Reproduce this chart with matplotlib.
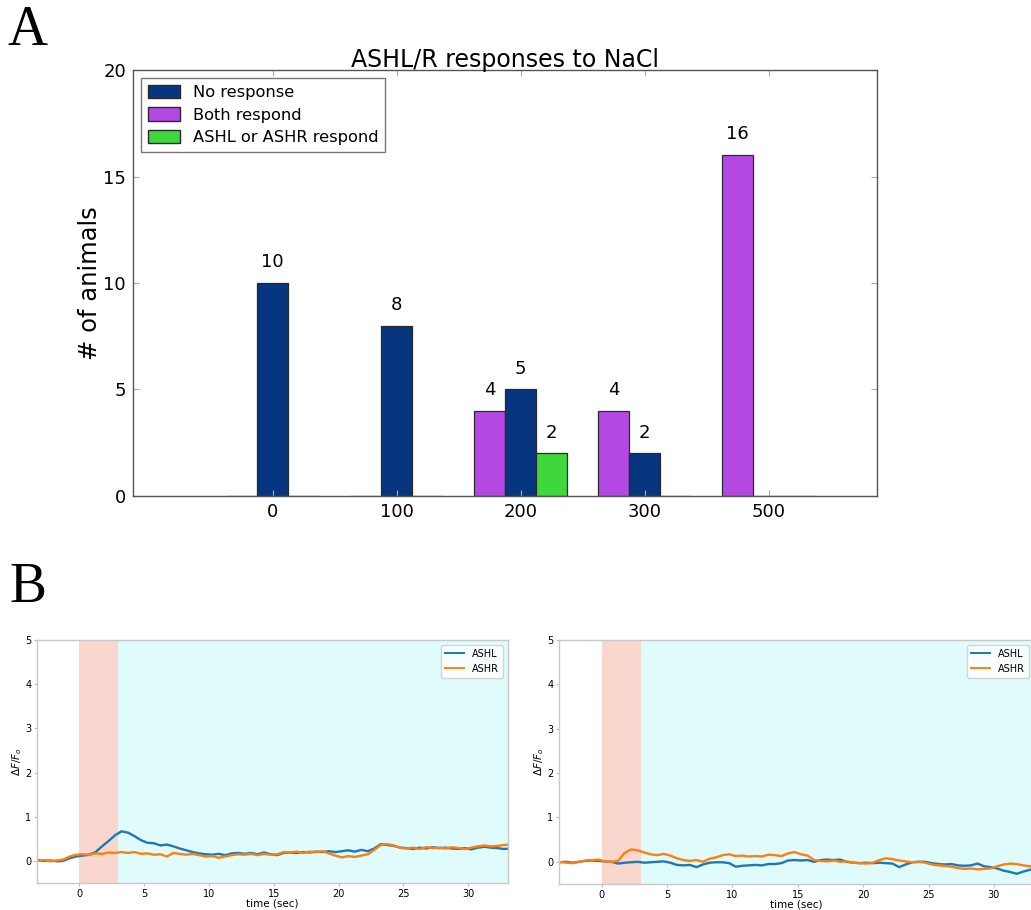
import numpy as np
import matplotlib
matplotlib.use('Agg')
import matplotlib.pyplot as plt
from matplotlib.patches import Patch

# 柱状图数据：各浓度下的动物数量
doses = ['0', '100', '200', '300', '500']
no_response = [10, 8, 5, 2, 0]
both_respond = [0, 0, 4, 4, 16]
one_respond = [0, 0, 2, 0, 0]

# 钙成像曲线数据，每 0.5 秒取一个点
t_start, t_step = -3.25, 0.5
left_ashl = [0.02, 0.00, 0.01, -0.01, 0.00, 0.06, 0.10, 0.12, 0.14, 0.20,
             0.33, 0.45, 0.58, 0.67, 0.64, 0.56, 0.47, 0.41, 0.40, 0.35,
             0.37, 0.33, 0.28, 0.24, 0.20, 0.17, 0.15, 0.14, 0.16, 0.13,
             0.17, 0.18, 0.16, 0.18, 0.15, 0.19, 0.15, 0.13, 0.18, 0.19,
             0.18, 0.20, 0.19, 0.21, 0.20, 0.22, 0.20, 0.22, 0.24, 0.21,
             0.25, 0.22, 0.28, 0.38, 0.36, 0.34, 0.30, 0.29, 0.27, 0.30,
             0.28, 0.31, 0.29, 0.30, 0.28, 0.27, 0.29, 0.26, 0.30, 0.32,
             0.30, 0.29, 0.27, 0.28]
left_ashr = [0.00, 0.02, -0.01, 0.01, 0.03, 0.10, 0.14, 0.15, 0.14, 0.17,
             0.16, 0.19, 0.18, 0.20, 0.18, 0.20, 0.16, 0.17, 0.14, 0.15,
             0.10, 0.18, 0.16, 0.14, 0.16, 0.13, 0.10, 0.11, 0.07, 0.10,
             0.13, 0.15, 0.14, 0.16, 0.13, 0.16, 0.14, 0.15, 0.20, 0.19,
             0.21, 0.18, 0.21, 0.20, 0.22, 0.17, 0.12, 0.08, 0.11, 0.09,
             0.12, 0.15, 0.25, 0.36, 0.38, 0.35, 0.30, 0.28, 0.30, 0.27,
             0.31, 0.29, 0.30, 0.28, 0.31, 0.29, 0.27, 0.30, 0.33, 0.35,
             0.33, 0.34, 0.36, 0.37]
right_ashl = [-0.01, 0.00, -0.02, 0.00, 0.02, 0.03, 0.02, 0.01, 0.00, -0.04,
              -0.02, -0.01, 0.00, -0.02, -0.01, 0.00, 0.01, -0.02, -0.07, -0.08,
              -0.07, -0.12, -0.06, -0.02, -0.01, -0.01, -0.03, -0.11, -0.09, -0.08,
              -0.07, -0.08, -0.05, -0.05, -0.03, 0.03, 0.04, 0.03, 0.04, 0.00,
              0.04, 0.05, 0.04, 0.05, 0.00, -0.02, -0.03, -0.02, -0.03, -0.02,
              -0.03, -0.04, -0.12, -0.06, -0.01, 0.00, 0.00, -0.03, -0.05, -0.06,
              -0.05, -0.08, -0.09, -0.08, -0.04, -0.10, -0.12, -0.15, -0.20, -0.23,
              -0.27, -0.22, -0.18, -0.13]
right_ashr = [0.00, -0.02, -0.03, 0.00, 0.03, 0.04, 0.05, 0.01, 0.00, 0.02,
              0.20, 0.28, 0.26, 0.21, 0.17, 0.15, 0.18, 0.14, 0.08, 0.04,
              0.02, 0.04, 0.00, 0.07, 0.10, 0.15, 0.17, 0.13, 0.14, 0.12,
              0.13, 0.12, 0.16, 0.15, 0.13, 0.19, 0.22, 0.17, 0.14, 0.04,
              0.02, 0.01, 0.03, 0.00, 0.01, -0.02, -0.03, -0.04, -0.02, 0.04,
              0.08, 0.06, 0.03, 0.01, -0.01, 0.00, -0.02, -0.06, -0.08, -0.09,
              -0.11, -0.14, -0.16, -0.15, -0.17, -0.16, -0.15, -0.10, -0.06, -0.04,
              -0.05, -0.08, -0.10, -0.12]

W, H = 1031, 910


def px_axes(fig, left, top, right, bottom):
    """按像素位置添加坐标轴"""
    return fig.add_axes([left / W, 1 - bottom / H, (right - left) / W, (bottom - top) / H])


def draw_bars(ax):
    x = np.arange(len(doses))
    w = 0.25
    c_none, c_both, c_one = '#07357f', '#b349e2', '#3ed83c'
    groups = [(x - w, both_respond, c_both), (x, no_response, c_none), (x + w, one_respond, c_one)]
    for pos, vals, col in groups:
        ax.bar(pos, vals, w, color=col, edgecolor='#2a2a2a', linewidth=0.9, align='center')
        for p, v in zip(pos, vals):
            if v > 0:
                ax.text(p, v + 0.55, str(v), ha='center', va='bottom', fontsize=13)

    ax.set_xlim(-1.125, 4.875)
    ax.set_ylim(0, 20)
    ax.set_xticks(x)
    ax.set_xticklabels(doses, fontsize=13)
    ax.set_yticks([0, 5, 10, 15, 20])
    ax.tick_params(axis='y', labelsize=13)
    ax.tick_params(direction='in', top=True, right=True, length=4, color='#aaaaaa', pad=5)
    for s in ax.spines.values():
        s.set_color('#555555')
        s.set_linewidth(1)
    ax.set_title('ASHL/R responses to NaCl', fontsize=17, pad=2)
    ax.set_ylabel('# of animals', fontsize=17.5, labelpad=1)

    handles = [Patch(facecolor=c_none, edgecolor='#2a2a2a', label='No response'),
               Patch(facecolor=c_both, edgecolor='#2a2a2a', label='Both respond'),
               Patch(facecolor=c_one, edgecolor='#2a2a2a', label='ASHL or ASHR respond')]
    leg = ax.legend(handles=handles, loc='upper left', fontsize=11.7, fancybox=False,
                    borderaxespad=0.5, handlelength=2.0, handleheight=0.9,
                    labelspacing=0.45, borderpad=0.4, handletextpad=0.8)
    leg.get_frame().set_edgecolor('#555555')
    leg.get_frame().set_linewidth(1)


def draw_trace(ax, ashl, ashr):
    t = t_start + t_step * np.arange(len(ashl))
    ax.axvspan(0, 3, color='#f9d7cf', lw=0)
    ax.axvspan(3, 40, color='#e0fbfb', lw=0)
    ax.plot(t, ashl, color='#1f77b4', lw=1.7, label='ASHL')
    ax.plot(t, ashr, color='#ff7f0e', lw=1.7, label='ASHR')
    ax.set_xlim(-3.27, 33.07)
    ax.set_ylim(-0.5, 5)
    ax.set_xticks([0, 5, 10, 15, 20, 25, 30])
    ax.set_yticks([0, 1, 2, 3, 4, 5])
    ax.tick_params(labelsize=7, length=2, color='#bbbbbb', pad=2)
    for s in ax.spines.values():
        s.set_color('#c8c8c8')
        s.set_linewidth(1)
    ax.set_xlabel('time (sec)', fontsize=7.5, labelpad=0)
    ax.set_ylabel(r'$\Delta F/F_o$', fontsize=7.5, labelpad=1)
    leg = ax.legend(loc='upper right', fontsize=7, borderaxespad=0.5)
    for line in leg.get_lines():
        line.set_linewidth(1.4)


fig = plt.figure(figsize=(W / 100, H / 100), dpi=100)

ax_a = px_axes(fig, 133, 70, 877, 496)
draw_bars(ax_a)

ax_l = px_axes(fig, 37, 640, 508, 883)
draw_trace(ax_l, left_ashl, left_ashr)

ax_r = px_axes(fig, 559, 640, 1034, 884)
draw_trace(ax_r, right_ashl, right_ashr)

# 面板字母
fig.text(8 / W, 1 - 45 / H, 'A', fontsize=40, family='Liberation Serif')
fig.text(9 / W, 1 - 602 / H, 'B', fontsize=40, family='Liberation Serif')

fig.savefig('out.png', dpi=100)
